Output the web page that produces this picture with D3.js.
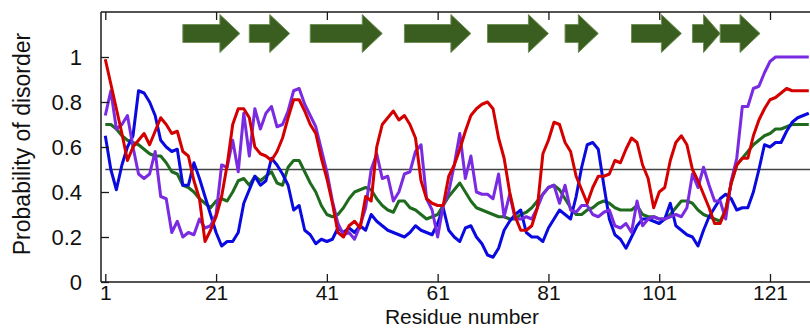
<!DOCTYPE html>
<html>
<head>
<meta charset="utf-8">
<script src="https://cdn.jsdelivr.net/npm/d3@7"></script>
<style>
  body { margin: 0; background: #fff; }
  svg { display: block; font-family: Arial, "Liberation Sans", sans-serif; }
</style>
</head>
<body>
<div id="chart"></div>
<script>
// per-residue disorder probability, residues 1..128
const red = [0.99,0.88,0.77,0.66,0.54,0.60,0.63,0.66,0.61,0.67,0.73,0.70,0.66,0.67,0.58,0.56,0.45,0.37,0.18,0.23,
  0.29,0.38,0.52,0.70,0.77,0.77,0.73,0.60,0.57,0.56,0.54,0.58,0.64,0.73,0.81,0.81,0.76,0.70,0.66,0.55,
  0.46,0.35,0.22,0.20,0.25,0.27,0.24,0.38,0.36,0.60,0.70,0.73,0.76,0.72,0.74,0.70,0.64,0.45,0.37,0.35,
  0.34,0.34,0.47,0.52,0.59,0.67,0.74,0.77,0.79,0.80,0.77,0.64,0.55,0.40,0.29,0.23,0.23,0.25,0.33,0.57,
  0.63,0.71,0.70,0.62,0.58,0.47,0.41,0.35,0.42,0.47,0.47,0.48,0.54,0.53,0.59,0.64,0.62,0.52,0.46,0.33,
  0.40,0.42,0.54,0.62,0.65,0.61,0.50,0.45,0.39,0.33,0.26,0.26,0.32,0.44,0.52,0.55,0.55,0.65,0.72,0.77,
  0.81,0.82,0.84,0.86,0.85,0.85,0.85,0.85];
const purple = [0.74,0.85,0.68,0.70,0.74,0.60,0.48,0.46,0.48,0.58,0.38,0.37,0.22,0.27,0.20,0.22,0.21,0.28,0.24,0.25,
  0.30,0.52,0.51,0.63,0.49,0.75,0.56,0.77,0.68,0.75,0.78,0.69,0.70,0.76,0.85,0.86,0.79,0.74,0.69,0.59,
  0.49,0.36,0.26,0.21,0.22,0.19,0.25,0.33,0.50,0.57,0.46,0.47,0.36,0.40,0.48,0.49,0.58,0.61,0.37,0.32,
  0.20,0.34,0.40,0.52,0.66,0.46,0.56,0.40,0.39,0.39,0.37,0.48,0.29,0.39,0.28,0.28,0.29,0.28,0.33,0.39,
  0.42,0.43,0.35,0.43,0.32,0.31,0.34,0.34,0.30,0.29,0.31,0.32,0.25,0.24,0.26,0.22,0.36,0.25,0.28,0.29,
  0.28,0.28,0.29,0.30,0.29,0.33,0.48,0.42,0.51,0.43,0.36,0.36,0.28,0.45,0.55,0.78,0.78,0.86,0.87,0.93,
  0.98,1.00,1.00,1.00,1.00,1.00,1.00,1.00];
const blue = [0.65,0.50,0.41,0.52,0.60,0.65,0.85,0.84,0.80,0.74,0.63,0.60,0.58,0.59,0.43,0.43,0.53,0.46,0.38,0.30,
  0.22,0.16,0.18,0.18,0.22,0.35,0.41,0.47,0.43,0.45,0.55,0.52,0.48,0.43,0.32,0.34,0.23,0.21,0.17,0.19,
  0.18,0.19,0.24,0.22,0.24,0.22,0.25,0.23,0.30,0.27,0.25,0.23,0.22,0.21,0.20,0.22,0.25,0.23,0.22,0.21,
  0.26,0.33,0.23,0.20,0.18,0.24,0.25,0.20,0.17,0.12,0.11,0.15,0.23,0.27,0.30,0.32,0.22,0.20,0.20,0.18,
  0.24,0.28,0.32,0.30,0.28,0.38,0.51,0.61,0.62,0.59,0.43,0.28,0.21,0.19,0.15,0.20,0.25,0.28,0.28,0.27,
  0.26,0.28,0.35,0.25,0.23,0.21,0.20,0.16,0.23,0.29,0.33,0.37,0.39,0.37,0.32,0.33,0.33,0.40,0.50,0.61,
  0.60,0.62,0.62,0.67,0.71,0.73,0.74,0.75];
const green = [0.70,0.70,0.68,0.65,0.63,0.62,0.61,0.59,0.57,0.56,0.56,0.53,0.49,0.48,0.43,0.42,0.40,0.37,0.35,0.33,
  0.36,0.37,0.36,0.40,0.45,0.46,0.43,0.47,0.45,0.47,0.49,0.44,0.43,0.51,0.54,0.54,0.49,0.44,0.40,0.34,
  0.30,0.29,0.30,0.33,0.37,0.40,0.41,0.42,0.41,0.37,0.34,0.32,0.31,0.36,0.36,0.33,0.32,0.30,0.28,0.29,
  0.30,0.34,0.38,0.41,0.44,0.40,0.36,0.33,0.32,0.31,0.30,0.29,0.29,0.28,0.28,0.30,0.31,0.33,0.36,0.39,
  0.42,0.43,0.41,0.37,0.33,0.30,0.30,0.32,0.33,0.35,0.36,0.35,0.33,0.32,0.32,0.32,0.34,0.30,0.29,0.29,
  0.28,0.28,0.30,0.33,0.36,0.36,0.35,0.32,0.30,0.29,0.28,0.27,0.32,0.44,0.52,0.55,0.58,0.61,0.63,0.65,
  0.66,0.68,0.68,0.69,0.70,0.70,0.70,0.70];

// beta strands (start, end residue)
const strandStart = [15, 27, 38, 55, 70, 84, 96, 107, 112];
const strandEnd   = [25.3, 34.3, 51, 67, 81, 90, 105, 112, 119.2];

const xTicks = [1, 21, 41, 61, 81, 101, 121];
const yTicks = [0, 0.2, 0.4, 0.6, 0.8, 1];
const cutoff = 0.5;

const W = 810, H = 329;
const marginLeft = 101, plotTop = 12, plotBottom = 282;
const fontSize = 22;

const x = d3.scaleLinear().domain([1, 121]).range([105.3, 770]);
const y = d3.scaleLinear().domain([0, 1.2]).range([plotBottom, plotTop]);

const svg = d3.select("#chart").append("svg")
  .attr("width", W).attr("height", H);

// series
const series = [
  { values: green, color: "#1e6b1e" },
  { values: blue, color: "#0a0ae0" },
  { values: purple, color: "#7a2be2" },
  { values: red, color: "#d40000" }
];
const lijn = d3.line()
  .x((d, i) => x(i + 1))
  .y(d => y(d));

// cutoff line
svg.append("line")
  .attr("x1", x(1)).attr("x2", W)
  .attr("y1", y(cutoff)).attr("y2", y(cutoff))
  .attr("stroke", "#444").attr("stroke-width", 1.3);

series.forEach(s => {
  svg.append("path")
    .datum(s.values)
    .attr("d", lijn)
    .attr("fill", "none")
    .attr("stroke", s.color)
    .attr("stroke-width", 3)
    .attr("stroke-linejoin", "round");
});

// strands as arrows
const mid = 33.5, bodyHalf = 9, headHalf = 19, headLen = 20;
strandStart.forEach((s, i) => {
  const x0 = x(s), x1 = x(strandEnd[i]);
  const hb = x1 - Math.min(headLen, (x1 - x0) * 0.6);
  const pts = [[x0, mid - bodyHalf], [hb, mid - bodyHalf], [hb, mid - headHalf], [x1, mid],
    [hb, mid + headHalf], [hb, mid + bodyHalf], [x0, mid + bodyHalf]];
  svg.append("path")
    .attr("d", "M" + pts.join("L") + "Z")
    .attr("fill", "#3a5e1f")
    .attr("stroke", "#6f8f55")
    .attr("stroke-width", 1);
});

// axes frame
const frame = svg.append("g").attr("stroke", "#1a1a1a").attr("stroke-width", 1.5);
frame.append("line").attr("x1", marginLeft).attr("x2", W).attr("y1", plotBottom).attr("y2", plotBottom);
frame.append("line").attr("x1", marginLeft).attr("x2", W).attr("y1", plotTop).attr("y2", plotTop);
frame.append("line").attr("x1", marginLeft).attr("x2", marginLeft).attr("y1", plotTop).attr("y2", plotBottom);

// x axis
const xAs = svg.append("g")
  .attr("transform", `translate(0,${plotBottom})`)
  .call(d3.axisBottom(x).tickValues(xTicks).tickSizeInner(-8).tickSizeOuter(0).tickPadding(3));
xAs.select(".domain").remove();
xAs.selectAll(".tick line").attr("stroke", "#1a1a1a").attr("stroke-width", 1.3);
xAs.selectAll(".tick text").attr("font-size", 21).attr("fill", "#111")
  .attr("font-family", "Arial, 'Liberation Sans', sans-serif");

const xTop = svg.append("g")
  .attr("transform", `translate(0,${plotTop})`)
  .call(d3.axisTop(x).tickValues(xTicks).tickSizeInner(-8).tickSizeOuter(0).tickFormat(""));
xTop.select(".domain").remove();
xTop.selectAll(".tick line").attr("stroke", "#1a1a1a").attr("stroke-width", 1.3);

// y axis
const yAs = svg.append("g")
  .attr("transform", `translate(${marginLeft},0)`)
  .call(d3.axisLeft(y).tickValues(yTicks).tickSizeInner(-8).tickSizeOuter(0).tickPadding(19)
    .tickFormat(d => d === 0 || d === 1 ? d3.format("d")(d) : d3.format(".1f")(d)));
yAs.select(".domain").remove();
yAs.selectAll(".tick line").attr("stroke", "#1a1a1a").attr("stroke-width", 1.3);
yAs.selectAll(".tick text").attr("font-size", fontSize).attr("fill", "#111")
  .attr("font-family", "Arial, 'Liberation Sans', sans-serif");

// titles
svg.append("text")
  .attr("x", 462).attr("y", 324)
  .attr("text-anchor", "middle")
  .attr("font-size", 21)
  .attr("fill", "#111")
  .text("Residue number");

svg.append("text")
  .attr("transform", "translate(30,144) rotate(-90)")
  .attr("text-anchor", "middle")
  .attr("font-size", 23)
  .attr("fill", "#111")
  .text("Probability of disorder");
</script>
</body>
</html>
